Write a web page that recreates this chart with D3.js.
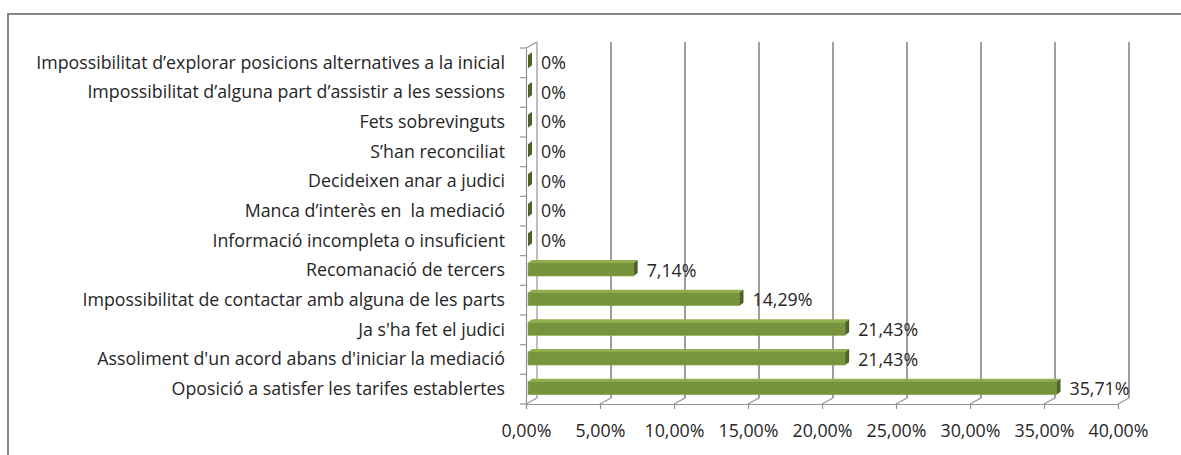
<!DOCTYPE html>
<html>
<head>
<meta charset="utf-8">
<script src="https://cdn.jsdelivr.net/npm/d3@7"></script>
<style>
  body { margin: 0; background: #fff; }
  text { font-family: "Open Sans", sans-serif; fill: #262626; white-space: pre; }
</style>
</head>
<body>
<div class="chart-container"></div>
<script>
// Data, top row first
const categories = [
    "Impossibilitat d’explorar posicions alternatives a la inicial",
    "Impossibilitat d’alguna part d’assistir a les sessions",
    "Fets sobrevinguts",
    "S’han reconciliat",
    "Decideixen anar a judici",
    "Manca d’interès en  la mediació",
    "Informació incompleta o insuficient",
    "Recomanació de tercers",
    "Impossibilitat de contactar amb alguna de les parts",
    "Ja s'ha fet el judici",
    "Assoliment d'un acord abans d'iniciar la mediació",
    "Oposició a satisfer les tarifes establertes"
];
const values = [0, 0, 0, 0, 0, 0, 0, 7.14, 14.29, 21.43, 21.43, 35.71];
const valueLabels = ["0%", "0%", "0%", "0%", "0%", "0%", "0%", "7,14%", "14,29%", "21,43%", "21,43%", "35,71%"];
const ticks = [0, 5, 10, 15, 20, 25, 30, 35, 40];
const tickLabels = ["0,00%", "5,00%", "10,00%", "15,00%", "20,00%", "25,00%", "30,00%", "35,00%", "40,00%"];

function draw() {
    const width = 1181;
    const height = 455;
    const plotLeft = 526, plotRight = 1118;
    const plotTop = 48, plotBottom = 404;
    const dx = 11, dy = -6;      // depth of the 3D wall
    const bdx = 4, bdy = -3;     // depth of the bars
    const gridColor = "#949494";
    const font = "'Open Sans', sans-serif";
    const fontSize = "17.8px";

    const x = d3.scaleLinear().domain([0, 40]).range([plotLeft, plotRight]);
    const xb = d3.scaleLinear().domain([0, 40]).range([plotLeft + 2, plotRight + 2]);
    const y = d3.scaleBand().domain(categories).range([plotTop, plotBottom]).paddingInner(0.56).paddingOuter(0.28);
    const yRow = d3.scaleBand().domain(categories).range([plotTop, plotBottom]);

    const svg = d3.select('.chart-container').append("svg")
        .attr("width", width)
        .attr("height", height);

    // chart border
    svg.append("rect")
        .attr("x", 8).attr("y", 14)
        .attr("width", width + 20).attr("height", height + 20)
        .attr("fill", "none")
        .attr("stroke", "#868686")
        .attr("stroke-width", 2);

    // back wall gridlines
    svg.append("g").selectAll("line")
        .data(ticks)
        .enter().append("line")
        .attr("x1", d => x(d) + dx).attr("x2", d => x(d) + dx)
        .attr("y1", plotTop + dy).attr("y2", plotBottom + dy)
        .attr("stroke", gridColor)
        .attr("stroke-width", d => d === 0 ? 1.2 : 1.8);

    // floor diagonals
    svg.append("g").selectAll("line")
        .data(ticks)
        .enter().append("line")
        .attr("x1", d => x(d)).attr("x2", d => x(d) + dx)
        .attr("y1", plotBottom).attr("y2", plotBottom + dy)
        .attr("stroke", gridColor)
        .attr("stroke-width", 1.2);

    // top-left wall corner
    svg.append("line")
        .attr("x1", plotLeft).attr("y1", plotTop)
        .attr("x2", plotLeft + dx).attr("y2", plotTop + dy)
        .attr("stroke", gridColor).attr("stroke-width", 1.2);

    // x axis
    const xAxis = svg.append("g")
        .attr("transform", `translate(0,${plotBottom})`)
        .call(d3.axisBottom(x).tickValues(ticks).tickSize(5).tickPadding(15)
            .tickFormat((d, i) => tickLabels[i]));
    xAxis.select(".domain").attr("stroke", gridColor).attr("stroke-width", 1.2);
    xAxis.selectAll(".tick line").attr("stroke", gridColor).attr("stroke-width", 1.2);
    xAxis.selectAll(".tick text")
        .attr("font-family", font)
        .attr("font-size", fontSize)
        .attr("fill", "#262626");

    // y axis
    const yAxis = svg.append("g")
        .attr("transform", `translate(${plotLeft},0)`)
        .call(d3.axisLeft(yRow).tickSize(0).tickPadding(21));
    yAxis.select(".domain").attr("stroke", gridColor).attr("stroke-width", 1.2);
    yAxis.selectAll(".tick text")
        .attr("font-family", font)
        .attr("font-size", fontSize)
        .attr("fill", "#262626");
    // tick marks between categories
    yAxis.append("g").selectAll("line")
        .data(d3.range(categories.length + 1))
        .enter().append("line")
        .attr("x1", -6).attr("x2", 0)
        .attr("y1", i => plotTop + i * yRow.step())
        .attr("y2", i => plotTop + i * yRow.step())
        .attr("stroke", gridColor).attr("stroke-width", 1.2);

    // bars
    const bars = svg.append("g").selectAll("g")
        .data(categories)
        .enter().append("g");

    bars.append("path")
        .attr("fill", "#8fb04c")
        .attr("d", (d, i) => {
            const x0 = xb(0), x1 = xb(values[i]), t = y(d) - 1;
            return `M${x0},${t}L${x0 + bdx},${t + bdy}L${x1 + bdx},${t + bdy}L${x1},${t}Z`;
        });

    bars.append("rect")
        .attr("x", xb(0))
        .attr("y", d => y(d) - 1)
        .attr("width", (d, i) => xb(values[i]) - xb(0))
        .attr("height", y.bandwidth())
        .attr("fill", "#77933c")
        .attr("stroke", "#8aa84a")
        .attr("stroke-width", 0.6);

    bars.append("path")
        .attr("fill", "#4f6228")
        .attr("d", (d, i) => {
            const x1 = xb(values[i]), t = y(d) - 1, b = t + y.bandwidth();
            return `M${x1},${t}L${x1 + bdx},${t + bdy}L${x1 + bdx},${b + bdy}L${x1},${b}Z`;
        });

    // value labels
    svg.append("g").selectAll("text")
        .data(categories)
        .enter().append("text")
        .attr("x", (d, i) => xb(values[i]) + bdx + 9)
        .attr("y", d => yRow(d) + yRow.bandwidth() / 2)
        .attr("dy", "0.35em")
        .attr("font-size", fontSize)
        .text((d, i) => valueLabels[i]);
}

draw();
</script>
</body>
</html>
